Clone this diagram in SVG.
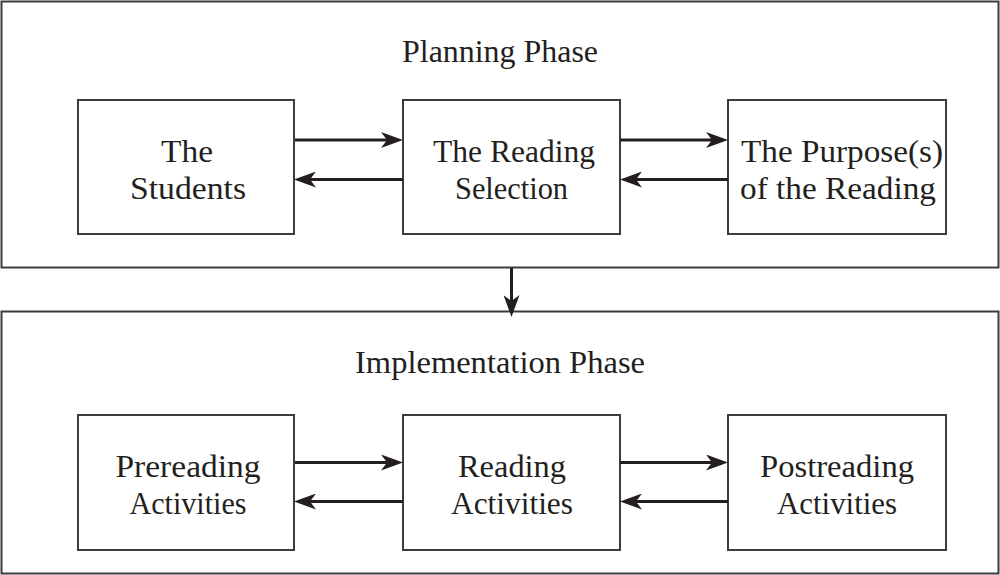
<svg xmlns="http://www.w3.org/2000/svg" width="1000" height="575" viewBox="0 0 1000 575">
<defs>
<style>
.frame{fill:#fff;stroke:#3c3c3c;stroke-width:2}
.box{fill:#fff;stroke:#3c3c3c;stroke-width:2}
.t{font-family:"Liberation Serif","Times New Roman",serif;font-size:32px;fill:#231f20;text-anchor:middle}
.c{stroke:#231f20;stroke-width:3;fill:none;marker-end:url(#ah)}
</style>
<marker id="ah" markerUnits="userSpaceOnUse" markerWidth="24" markerHeight="16" refX="14" refY="8" orient="auto" viewBox="0 0 24 16">
<path d="M0,0 L22,8 L0,16 L6,8 Z" fill="#231f20"/>
</marker>
</defs>
<rect width="1000" height="575" fill="#fff"/>
<g id="planning">
<rect class="frame" x="1.5" y="1.5" width="997" height="266"/>
<text class="t" x="500" y="62" textLength="196" lengthAdjust="spacingAndGlyphs">Planning Phase</text>
</g>
<g id="implementation">
<rect class="frame" x="1.5" y="311.5" width="997" height="262"/>
<text class="t" x="500" y="373" textLength="290" lengthAdjust="spacingAndGlyphs">Implementation Phase</text>
</g>
<g id="students">
<rect class="box" x="78" y="100" width="216" height="134"/>
<text class="t" x="187" y="162" textLength="52" lengthAdjust="spacingAndGlyphs">The</text>
<text class="t" x="188" y="198.5" textLength="116" lengthAdjust="spacingAndGlyphs">Students</text>
</g>
<g id="selection">
<rect class="box" x="403" y="100" width="217" height="134"/>
<text class="t" x="514" y="162" textLength="162" lengthAdjust="spacingAndGlyphs">The Reading</text>
<text class="t" x="511.5" y="198.5" textLength="113" lengthAdjust="spacingAndGlyphs">Selection</text>
</g>
<g id="purpose">
<rect class="box" x="728" y="100" width="218" height="134"/>
<text class="t" x="842" y="162" textLength="202" lengthAdjust="spacingAndGlyphs">The Purpose(s)</text>
<text class="t" x="838" y="198.5" textLength="196" lengthAdjust="spacingAndGlyphs">of the Reading</text>
</g>
<g id="prereading">
<rect class="box" x="78" y="415" width="216" height="135"/>
<text class="t" x="188" y="477" textLength="145" lengthAdjust="spacingAndGlyphs">Prereading</text>
<text class="t" x="188" y="513.5" textLength="117" lengthAdjust="spacingAndGlyphs">Activities</text>
</g>
<g id="reading">
<rect class="box" x="403" y="415" width="217" height="135"/>
<text class="t" x="512" y="477" textLength="108" lengthAdjust="spacingAndGlyphs">Reading</text>
<text class="t" x="512" y="513.5" textLength="122" lengthAdjust="spacingAndGlyphs">Activities</text>
</g>
<g id="postreading">
<rect class="box" x="728" y="415" width="218" height="135"/>
<text class="t" x="837" y="477" textLength="154" lengthAdjust="spacingAndGlyphs">Postreading</text>
<text class="t" x="837" y="513.5" textLength="120" lengthAdjust="spacingAndGlyphs">Activities</text>
</g>
<g id="connectors">
<line class="c" x1="295" y1="140" x2="395" y2="140"/>
<line class="c" x1="403" y1="179.5" x2="302" y2="179.5"/>
<line class="c" x1="620" y1="140" x2="720" y2="140"/>
<line class="c" x1="728" y1="179.5" x2="628" y2="179.5"/>
<line class="c" x1="295" y1="462.5" x2="395" y2="462.5"/>
<line class="c" x1="403" y1="501.5" x2="302" y2="501.5"/>
<line class="c" x1="620" y1="462.5" x2="720" y2="462.5"/>
<line class="c" x1="728" y1="501.5" x2="628" y2="501.5"/>
<line class="c" x1="511.5" y1="268" x2="511.5" y2="309"/>
</g>
</svg>
